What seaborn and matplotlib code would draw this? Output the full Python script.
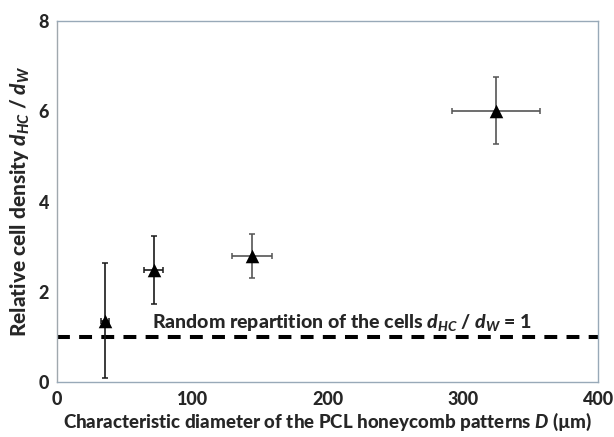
import matplotlib
matplotlib.use("Agg")
import matplotlib.pyplot as plt
import seaborn as sns
import pandas as pd

# Measured cell densities on PCL honeycomb films
diameter = [35.5, 71.5, 144.2, 324.4]          # D (µm)
diameter_err = [3.0, 7.0, 14.6, 32.7]
density_ratio = [1.36, 2.48, 2.79, 6.01]       # d_HC / d_W
density_err = [1.27, 0.75, 0.49, 0.74]
bar_colors = ["#1a1a1a", "#1a1a1a", "#555555", "#555555"]

random_level = 1.0
x_ticks = [0, 100, 200, 300, 400]
y_ticks = [0, 2, 4, 6, 8]

sns.set_style("white")
plt.rcParams["font.family"] = ["Lato", "DejaVu Sans"]
plt.rcParams["font.weight"] = "black"
plt.rcParams["mathtext.fontset"] = "custom"
plt.rcParams["mathtext.rm"] = "Lato:black"
plt.rcParams["mathtext.it"] = "Lato:italic:black"
plt.rcParams["mathtext.bf"] = "Lato:black"

df = pd.DataFrame({"D": diameter, "ratio": density_ratio})

fig = plt.figure(figsize=(6.14, 4.37), dpi=100)
ax = fig.add_axes([0.0933, 0.1252, 0.8807, 0.8274])

for xi, yi, xe, ye, c in zip(diameter, density_ratio, diameter_err, density_err, bar_colors):
    ax.errorbar(xi, yi, xerr=xe, yerr=ye, fmt="none", ecolor=c,
                elinewidth=1.2, capsize=2.2, capthick=1.1, zorder=2)

sns.scatterplot(data=df, x="D", y="ratio", marker="^", s=95, color="black",
                edgecolor="black", linewidth=0, ax=ax, zorder=3, legend=False)

ax.axhline(random_level, color="black", lw=2.9, dashes=(3.2, 2.3), zorder=1)
ax.text(70, 1.21, r"Random repartition of the cells $d_{HC}$ / $d_{W}$ = 1",
        fontsize=14, fontweight="black", va="baseline", ha="left")

ax.set_xlim(0, 400)
ax.set_ylim(0, 8)
ax.set_xticks(x_ticks)
ax.set_yticks(y_ticks)
ax.set_yticks([1, 3, 5, 7], minor=True)

spine_color = "#98a9b8"
for s in ax.spines.values():
    s.set_color(spine_color)
    s.set_linewidth(1.0)
ax.spines["left"].set_color("#a0a8ae")

ax.tick_params(axis="both", which="both", direction="out", length=4,
               width=1, color="#a0a8ae", labelsize=13, pad=2)
ax.tick_params(axis="y", which="minor", length=4)
for lab in ax.get_xticklabels() + ax.get_yticklabels():
    lab.set_fontweight("black")

ax.set_xlabel(r"Characteristic diameter of the PCL honeycomb patterns $D$ (µm)",
              fontsize=13.5, fontweight="black", labelpad=2)
ax.set_ylabel(r"Relative cell density $d_{HC}$ / $d_W$",
              fontsize=15, fontweight="black", labelpad=5)

fig.savefig("out.png", dpi=100)
